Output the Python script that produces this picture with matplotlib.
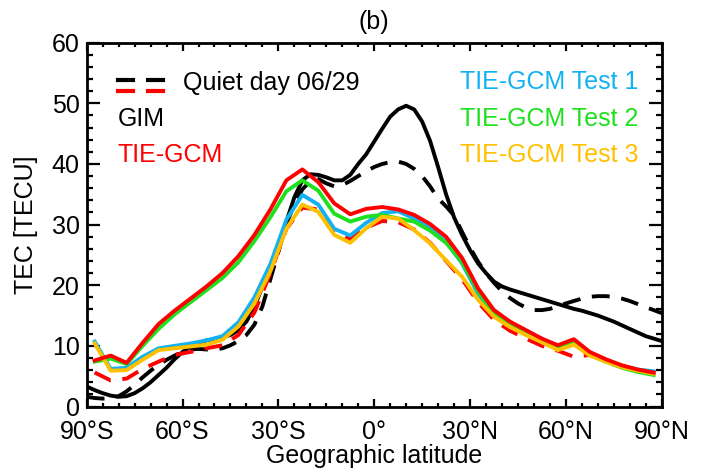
import numpy as np
import matplotlib
matplotlib.use("Agg")
import matplotlib.pyplot as plt
from matplotlib.ticker import MultipleLocator
from matplotlib.lines import Line2D

plt.rcParams['font.family'] = ['Liberation Sans', 'DejaVu Sans']

# ---------------- data ----------------
lat_gim = np.arange(-90, 90.1, 2.5)
gim = [3.3, 2.7, 2.2, 1.8, 1.6, 1.7, 2.2, 3.0, 4.0, 5.2, 6.4, 7.8, 9.0, 9.9, 10.5, 10.9,
       11.1, 11.4, 11.8, 12.6, 14.0, 16.5, 19.7, 23.0, 26.5, 30.5, 34.5, 37.3, 38.3, 38.2,
       37.8, 37.3, 37.3, 38.2, 40.0, 41.6, 43.7, 45.8, 47.8, 49.0, 49.6, 49.0, 47.0, 43.8,
       39.5, 35.0, 31.2, 28.3, 25.8, 23.6, 22.0, 20.6, 19.8, 19.3, 18.9, 18.5, 18.1, 17.7,
       17.3, 16.9, 16.5, 16.1, 15.8, 15.4, 15.0, 14.5, 14.0, 13.4, 12.8, 12.2, 11.6, 11.2, 10.8]
gim_quiet = [1.6, 1.4, 1.3, 1.4, 1.7, 2.5, 3.6, 4.8, 5.9, 6.9, 7.7, 8.4, 9.0, 9.4, 9.5, 9.4,
             9.4, 9.6, 10.1, 10.8, 11.8, 13.5, 16.5, 21.0, 25.5, 30.0, 33.5, 35.8, 37.2, 37.5,
             36.8, 36.3, 36.5, 37.2, 38.0, 38.8, 39.5, 40.0, 40.3, 40.4, 40.0, 39.2, 38.0, 36.3,
             34.3, 33.0, 31.5, 28.8, 26.2, 23.9, 22.0, 20.4, 19.0, 17.9, 17.0, 16.3, 15.9, 15.9,
             16.1, 16.6, 17.0, 17.4, 17.8, 18.1, 18.2, 18.2, 18.1, 17.8, 17.4, 16.9, 16.4, 15.9, 15.4]

lat_model = np.arange(-87.5, 90, 5.0)
tiegcm = [7.6, 8.4, 7.2, 10.5, 13.6, 15.8, 17.8, 19.8, 22.0, 24.8, 28.3, 32.5, 37.3, 39.1,
          37.0, 33.5, 31.7, 32.6, 32.9, 32.5, 31.6, 30.1, 28.0, 24.5, 19.5, 15.9, 14.0, 12.6,
          11.2, 10.1, 11.1, 9.0, 7.8, 6.8, 6.1, 5.6]
tiegcm_quiet = [5.6, 4.3, 4.6, 6.2, 7.4, 8.5, 9.0, 9.6, 10.1, 11.8, 15.5, 22.0, 29.3, 32.8,
                32.5, 28.8, 27.6, 29.5, 30.6, 30.4, 29.2, 27.0, 24.0, 21.0, 17.2, 14.3, 12.5,
                11.2, 10.0, 9.2, 8.2, 8.5, 7.4, 6.5, 5.9, 5.4]
test1 = [10.7, 6.2, 6.4, 8.2, 9.6, 10.0, 10.4, 10.9, 11.6, 13.9, 18.0, 23.5, 30.8, 34.9,
         33.3, 29.3, 28.2, 30.3, 31.9, 32.2, 31.0, 29.4, 27.2, 23.6, 18.6, 15.1, 13.3, 11.9,
         10.6, 9.5, 10.5, 8.6, 7.5, 6.7, 6.1, 5.8]
test2 = [7.4, 7.9, 7.0, 10.0, 12.8, 15.2, 17.2, 19.2, 21.2, 23.8, 27.3, 31.2, 35.5, 37.3,
         35.6, 31.8, 30.5, 31.3, 31.6, 31.0, 30.5, 29.0, 27.0, 23.8, 19.0, 15.3, 13.5, 12.1,
         10.8, 9.6, 10.6, 8.6, 7.4, 6.4, 5.7, 5.2]
test3 = [10.4, 5.9, 6.0, 7.7, 9.3, 9.6, 9.9, 10.2, 11.0, 13.2, 17.0, 22.3, 29.3, 33.3,
         32.1, 28.3, 27.0, 29.4, 31.3, 31.0, 29.1, 26.9, 24.1, 21.4, 17.6, 14.8, 13.1, 11.8,
         10.6, 9.3, 10.2, 8.4, 7.4, 6.5, 5.9, 5.4]

xticks = [-90, -60, -30, 0, 30, 60, 90]
xticklabels = ['90°S', '60°S', '30°S', '0°', '30°N', '60°N', '90°N']
yticks = [0, 10, 20, 30, 40, 50, 60]

C_CYAN = '#12B2F2'
C_GREEN = '#1EE01E'
C_ORANGE = '#FFC000'
C_RED = '#FF0000'

W, H = 704, 472
fig = plt.figure(figsize=(W / 100, H / 100), dpi=100)
ax = fig.add_axes([86.7 / W, 1 - 406.5 / H, (661.7 - 86.7) / W, (406.5 - 42.7) / H])

lw = 2.8
dash = (4.6, 3.0)
ax.plot(lat_gim, gim, color='black', lw=lw, zorder=3)
ax.plot(lat_gim, gim_quiet, color='black', lw=lw, ls=(0, dash), zorder=3)
ax.plot(lat_model, tiegcm_quiet, color=C_RED, lw=lw, ls=(0, dash), zorder=4)
ax.plot(lat_model, test1, color=C_CYAN, lw=lw, zorder=5)
ax.plot(lat_model, test2, color=C_GREEN, lw=lw, zorder=5)
ax.plot(lat_model, test3, color=C_ORANGE, lw=lw, zorder=6)
ax.plot(lat_model, tiegcm, color=C_RED, lw=lw, zorder=7)

ax.set_xlim(-90, 90)
ax.set_ylim(0, 60)
ax.set_xticks(xticks)
ax.set_xticklabels(xticklabels)
ax.set_yticks(yticks)
ax.xaxis.set_minor_locator(MultipleLocator(5))
ax.yaxis.set_minor_locator(MultipleLocator(2))
fs = 18
ax.tick_params(axis='both', which='both', direction='in', top=True, right=True,
               labelsize=fs, width=1.6, colors='black')
ax.tick_params(axis='x', which='major', length=5.5, pad=10)
ax.tick_params(axis='x', which='minor', length=2.8)
ax.tick_params(axis='y', which='major', length=9.5, pad=5)
ax.tick_params(axis='y', which='minor', length=4.5)
for s in ax.spines.values():
    s.set_linewidth(2.0)

ax.set_xlabel('Geographic latitude', fontsize=fs, labelpad=0)
ax.set_ylabel('TEC [TECU]', fontsize=fs, labelpad=10)
ax.set_title('(b)', fontsize=fs, pad=10)

# legend (manual, as in the original)
def fx(px):
    return px / W

def fy(py):
    return 1 - py / H

for ypx, col in [(79.5, 'black'), (90.5, C_RED)]:
    fig.add_artist(Line2D([fx(118), fx(133)], [fy(ypx), fy(ypx)], color=col, lw=3.0))
    fig.add_artist(Line2D([fx(148), fx(163)], [fy(ypx), fy(ypx)], color=col, lw=3.0))
fig.text(fx(183), fy(83), 'Quiet day 06/29', fontsize=fs, color='black', va='center', ha='left')
fig.text(fx(118), fy(119), 'GIM', fontsize=fs, color='black', va='center', ha='left')
fig.text(fx(118), fy(155), 'TIE-GCM', fontsize=fs, color=C_RED, va='center', ha='left')
fig.text(fx(460), fy(82), 'TIE-GCM Test 1', fontsize=fs, color=C_CYAN, va='center', ha='left')
fig.text(fx(460), fy(118.5), 'TIE-GCM Test 2', fontsize=fs, color=C_GREEN, va='center', ha='left')
fig.text(fx(460), fy(155), 'TIE-GCM Test 3', fontsize=fs, color=C_ORANGE, va='center', ha='left')

fig.savefig('out.png', dpi=100)
